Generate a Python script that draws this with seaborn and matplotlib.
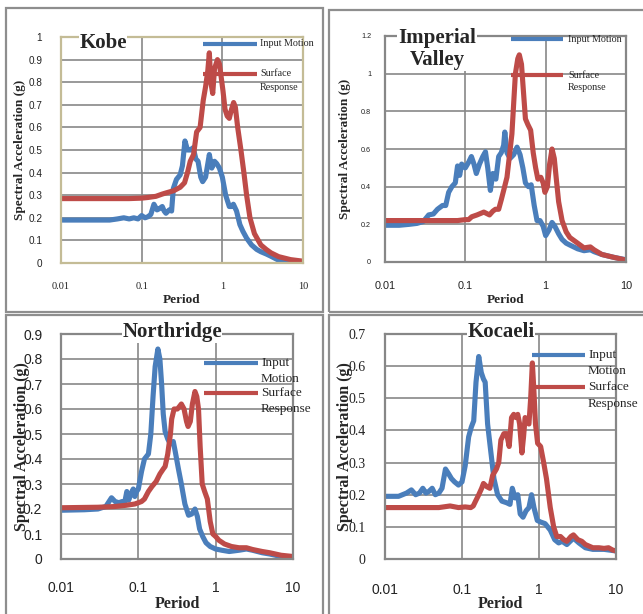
import numpy as np
import pandas as pd
import matplotlib
matplotlib.use("Agg")
import matplotlib.pyplot as plt
from matplotlib.patches import Rectangle
from matplotlib.lines import Line2D
import seaborn as sns

# ---- data (period in s, spectral acceleration in g) ----
kobe_in_T = [0.01, 0.02, 0.03, 0.04, 0.05, 0.06, 0.07, 0.08, 0.09, 0.1, 0.11, 0.12, 0.13, 0.142, 0.155,
             0.165, 0.18, 0.19, 0.2, 0.22, 0.235, 0.247, 0.27, 0.3, 0.32, 0.344, 0.37, 0.4, 0.435, 0.47,
             0.5, 0.54, 0.57, 0.62, 0.69, 0.74, 0.8, 0.85, 0.92, 1.0, 1.1, 1.22, 1.3, 1.37, 1.5, 1.65,
             1.8, 2.0, 2.3, 2.67, 3.0, 3.5, 4.0, 5.0, 7.0, 10.0]
kobe_in_SA = [0.19, 0.19, 0.19, 0.19, 0.195, 0.2, 0.195, 0.2, 0.195, 0.21, 0.2, 0.205, 0.215, 0.26, 0.235,
              0.24, 0.25, 0.23, 0.22, 0.235, 0.23, 0.33, 0.37, 0.39, 0.43, 0.54, 0.5, 0.5, 0.51, 0.46,
              0.45, 0.38, 0.36, 0.38, 0.48, 0.42, 0.45, 0.44, 0.42, 0.38, 0.3, 0.25, 0.25, 0.26, 0.23, 0.17,
              0.14, 0.11, 0.08, 0.06, 0.05, 0.04, 0.03, 0.012, 0.006, 0.004]
kobe_out_T = [0.01, 0.03, 0.05, 0.07, 0.1, 0.12, 0.15, 0.18, 0.2, 0.25, 0.3, 0.34, 0.37, 0.4, 0.44, 0.48,
              0.53, 0.58, 0.62, 0.66, 0.69, 0.72, 0.76, 0.8, 0.87, 0.92, 0.97, 1.02, 1.08, 1.15, 1.22,
              1.3, 1.38, 1.45, 1.55, 1.7, 1.85, 2.0, 2.2, 2.5, 3.0, 3.5, 4.0, 5.0, 7.0, 10.0]
kobe_out_SA = [0.285, 0.285, 0.285, 0.285, 0.287, 0.29, 0.295, 0.305, 0.31, 0.32, 0.335, 0.355, 0.4, 0.45,
               0.48, 0.58, 0.6, 0.72, 0.78, 0.85, 0.93, 0.8, 0.75, 0.86, 0.9, 0.88, 0.82, 0.76, 0.68, 0.65,
               0.64, 0.68, 0.71, 0.69, 0.6, 0.5, 0.4, 0.3, 0.2, 0.13, 0.08, 0.06, 0.045, 0.028, 0.015, 0.008]

imp_in_T = [0.01, 0.015, 0.02, 0.025, 0.03, 0.035, 0.04, 0.045, 0.052, 0.057, 0.062, 0.068, 0.075, 0.08,
            0.085, 0.09, 0.1, 0.11, 0.119, 0.128, 0.137, 0.15, 0.165, 0.178, 0.19, 0.205, 0.22, 0.24, 0.26,
            0.28, 0.3, 0.31, 0.33, 0.36, 0.4, 0.44, 0.48, 0.52, 0.56, 0.61, 0.66, 0.72, 0.78, 0.85, 0.93,
            1.0, 1.1, 1.2, 1.3, 1.45, 1.6, 1.8, 2.0, 2.5, 3.0, 3.6, 4.0, 5.0, 7.0, 10.0]
imp_in_SA = [0.195, 0.195, 0.2, 0.205, 0.215, 0.25, 0.255, 0.28, 0.3, 0.3, 0.37, 0.4, 0.42, 0.51, 0.46,
             0.52, 0.5, 0.53, 0.56, 0.52, 0.47, 0.52, 0.56, 0.585, 0.5, 0.38, 0.47, 0.44, 0.56, 0.58, 0.62,
             0.69, 0.58, 0.55, 0.57, 0.61, 0.57, 0.5, 0.42, 0.4, 0.41, 0.3, 0.22, 0.22, 0.19, 0.14, 0.17,
             0.21, 0.19, 0.15, 0.12, 0.1, 0.09, 0.07, 0.06, 0.065, 0.055, 0.04, 0.025, 0.012]
imp_out_T = [0.01, 0.03, 0.06, 0.08, 0.1, 0.11, 0.12, 0.14, 0.17, 0.2, 0.22, 0.237, 0.26, 0.28, 0.3, 0.33,
             0.38, 0.42, 0.45, 0.47, 0.5, 0.53, 0.56, 0.6, 0.65, 0.7, 0.75, 0.8, 0.87, 0.93, 0.98, 1.05,
             1.12, 1.2, 1.28, 1.35, 1.45, 1.6, 1.8, 2.0, 2.5, 3.0, 3.6, 4.0, 5.0, 7.0, 10.0]
imp_out_SA = [0.22, 0.22, 0.22, 0.22, 0.225, 0.225, 0.24, 0.25, 0.265, 0.25, 0.27, 0.28, 0.28, 0.33, 0.38,
              0.45, 0.68, 1.0, 1.08, 1.1, 1.05, 0.9, 0.76, 0.73, 0.7, 0.58, 0.5, 0.44, 0.45, 0.42, 0.37,
              0.4, 0.52, 0.6, 0.55, 0.45, 0.32, 0.22, 0.16, 0.13, 0.1, 0.075, 0.08, 0.065, 0.04, 0.025, 0.01]

nor_in_T = [0.01, 0.02, 0.03, 0.038, 0.045, 0.05, 0.056, 0.062, 0.066, 0.071, 0.075, 0.08, 0.086, 0.09,
            0.095, 0.1, 0.11, 0.12, 0.135, 0.145, 0.155, 0.165, 0.179, 0.19, 0.2, 0.21, 0.222, 0.24, 0.26,
            0.283, 0.3, 0.33, 0.36, 0.4, 0.446, 0.49, 0.54, 0.58, 0.62, 0.68, 0.75, 0.85, 1.0, 1.2, 1.5,
            2.0, 2.5, 3.0, 4.0, 5.0, 7.0, 10.0]
nor_in_SA = [0.195, 0.197, 0.2, 0.21, 0.245, 0.23, 0.225, 0.23, 0.22, 0.27, 0.235, 0.26, 0.28, 0.25, 0.27,
             0.28, 0.35, 0.4, 0.42, 0.5, 0.65, 0.77, 0.84, 0.8, 0.7, 0.58, 0.51, 0.48, 0.46, 0.47, 0.43,
             0.36, 0.3, 0.22, 0.175, 0.18, 0.2, 0.17, 0.12, 0.09, 0.065, 0.05, 0.04, 0.035, 0.03, 0.035,
             0.04, 0.035, 0.025, 0.02, 0.01, 0.005]
nor_out_T = [0.01, 0.03, 0.05, 0.07, 0.09, 0.1, 0.11, 0.12, 0.135, 0.15, 0.17, 0.19, 0.21, 0.222, 0.24,
             0.26, 0.27, 0.29, 0.32, 0.34, 0.36, 0.39, 0.42, 0.44, 0.47, 0.5, 0.54, 0.57, 0.6, 0.63, 0.67,
             0.72, 0.78, 0.85, 0.92, 1.0, 1.1, 1.3, 1.6, 2.0, 2.5, 3.0, 4.0, 5.0, 7.0, 10.0]
nor_out_SA = [0.205, 0.207, 0.21, 0.215, 0.22, 0.225, 0.23, 0.24, 0.27, 0.29, 0.31, 0.34, 0.36, 0.37, 0.42,
              0.5, 0.56, 0.6, 0.6, 0.61, 0.62, 0.6, 0.55, 0.53, 0.55, 0.62, 0.67, 0.65, 0.6, 0.45, 0.3,
              0.27, 0.24, 0.15, 0.1, 0.09, 0.075, 0.06, 0.05, 0.045, 0.045, 0.038, 0.03, 0.025, 0.015, 0.01]

koc_in_T = [0.01, 0.015, 0.019, 0.022, 0.025, 0.028, 0.031, 0.034, 0.037, 0.041, 0.045, 0.05, 0.055,
            0.061, 0.067, 0.073, 0.08, 0.09, 0.1, 0.11, 0.122, 0.132, 0.142, 0.152, 0.165, 0.178, 0.19,
            0.2, 0.215, 0.235, 0.26, 0.29, 0.33, 0.38, 0.42, 0.45, 0.49, 0.53, 0.57, 0.62, 0.68, 0.74,
            0.8, 0.86, 0.95, 1.05, 1.2, 1.4, 1.6, 1.8, 2.0, 2.3, 2.8, 3.3, 4.0, 5.0, 7.0, 10.0]
koc_in_SA = [0.195, 0.195, 0.205, 0.215, 0.2, 0.205, 0.22, 0.205, 0.21, 0.22, 0.2, 0.205, 0.22, 0.28,
             0.265, 0.25, 0.24, 0.23, 0.24, 0.29, 0.38, 0.41, 0.43, 0.55, 0.63, 0.58, 0.56, 0.55, 0.42,
             0.34, 0.25, 0.2, 0.18, 0.175, 0.17, 0.22, 0.19, 0.2, 0.14, 0.13, 0.15, 0.16, 0.2, 0.16, 0.12,
             0.115, 0.11, 0.09, 0.06, 0.05, 0.055, 0.045, 0.065, 0.05, 0.035, 0.03, 0.03, 0.025]
koc_out_T = [0.01, 0.03, 0.05, 0.07, 0.09, 0.11, 0.13, 0.14, 0.15, 0.165, 0.18, 0.19, 0.2, 0.21, 0.23,
             0.25, 0.28, 0.3, 0.32, 0.35, 0.38, 0.41, 0.44, 0.47, 0.5, 0.53, 0.56, 0.6, 0.63, 0.66, 0.7,
             0.74, 0.78, 0.82, 0.86, 0.9, 0.96, 1.05, 1.15, 1.25, 1.4, 1.55, 1.7, 1.9, 2.1, 2.3, 2.6, 2.8,
             3.2, 3.6, 4.0, 5.0, 6.0, 7.0, 8.0, 9.0, 10.0]
koc_out_SA = [0.16, 0.16, 0.16, 0.165, 0.16, 0.162, 0.16, 0.165, 0.18, 0.2, 0.22, 0.235, 0.23, 0.225, 0.22,
              0.26, 0.28, 0.3, 0.37, 0.39, 0.39, 0.35, 0.44, 0.45, 0.44, 0.45, 0.42, 0.33, 0.38, 0.44,
              0.43, 0.42, 0.5, 0.61, 0.52, 0.42, 0.36, 0.35, 0.3, 0.25, 0.16, 0.1, 0.07, 0.07, 0.06, 0.055,
              0.07, 0.075, 0.06, 0.055, 0.045, 0.035, 0.035, 0.033, 0.035, 0.028, 0.025]

x_ticks = [0.01, 0.1, 1, 10]
x_ticklabels = ["0.01", "0.1", "1", "10"]
series_names = ["Input Motion", "Surface Response"]

W, H = 643, 614
BLUE = "#4A7EBB"
RED = "#BE4B48"
GRID = "#878787"
FRAME = "#8E8E8E"

sns.set_theme(style="white")
plt.rcParams["font.family"] = ["Liberation Serif", "DejaVu Serif"]

fig = plt.figure(figsize=(W / 100, H / 100), dpi=100)


def fx(x):
    return x / W


def fy(y):
    return 1 - y / H


# outer frames of the four pasted Excel charts
for (x0, y0, x1, y1) in [(6, 8, 323, 312), (329, 10, 646, 312), (6, 315, 323, 617), (329, 315, 646, 617)]:
    fig.add_artist(Rectangle((fx(x0), fy(y1)), fx(x1 - x0), (y1 - y0) / H, transform=fig.transFigure,
                             fill=False, ec=FRAME, lw=1.6))

panels = [
    dict(title="Kobe", T=(kobe_in_T, kobe_out_T), SA=(kobe_in_SA, kobe_out_SA),
         box=(61, 37, 303, 263), ymax=1.0, ystep=0.1, spine="#C4BC96",
         title_xy=(103, 43), ylab_x=20, xlab_y=300, lab_fs=9.5,
         ytick_fs=7.2, ytick_font="Liberation Sans", ypad=13.5,
         xtick_fs=7.5, xtick_font="Liberation Serif", xpad=14,
         leg=(203, 257, 260, [44, 74], ["Input Motion", "Surface\nResponse"], 7.3, 14)),
    dict(title="Imperial\nValley", T=(imp_in_T, imp_out_T), SA=(imp_in_SA, imp_out_SA),
         box=(385, 36, 626, 262), ymax=1.2, ystep=0.2, spine=GRID,
         title_xy=(437, 49), ylab_x=345, xlab_y=300, lab_fs=9.5,
         ytick_fs=5.2, ytick_font="Liberation Sans", ypad=10,
         xtick_fs=7.8, xtick_font="Liberation Sans", xpad=14,
         leg=(511, 563, 568, [39, 75], ["Input Motion", "Surface\nResponse"], 7.3, 13)),
    dict(title="Northridge", T=(nor_in_T, nor_out_T), SA=(nor_in_SA, nor_out_SA),
         box=(61, 334, 293, 559), ymax=0.9, ystep=0.1, spine=GRID,
         title_xy=(172, 332), ylab_x=22, xlab_y=604, lab_fs=11.5,
         ytick_fs=10, ytick_font="Liberation Sans", ypad=13.5,
         xtick_fs=10, xtick_font="Liberation Sans", xpad=16,
         leg=(204, 258, 261, [363, 393], ["Input\nMotion", "Surface\nResponse"], 9.5, 16)),
    dict(title="Kocaeli", T=(koc_in_T, koc_out_T), SA=(koc_in_SA, koc_out_SA),
         box=(385, 334, 616, 559), ymax=0.7, ystep=0.1, spine=GRID,
         title_xy=(501, 332), ylab_x=345, xlab_y=604, lab_fs=11.5,
         ytick_fs=10, ytick_font="Liberation Serif", ypad=14,
         xtick_fs=10, xtick_font="Liberation Sans", xpad=17,
         leg=(532, 585, 588, [355, 387], ["Input\nMotion", "Surface\nResponse"], 9.5, 16.5)),
]

for p in panels:
    x0, y0, x1, y1 = p["box"]
    ax = fig.add_axes([fx(x0), fy(y1), (x1 - x0) / W, (y1 - y0) / H])

    frames = []
    for name, T, SA in zip(series_names, p["T"], p["SA"]):
        frames.append(pd.DataFrame({"Period": T, "SA": SA, "series": name}))
    df = pd.concat(frames, ignore_index=True)

    sns.lineplot(data=df, x="Period", y="SA", hue="series", palette=[BLUE, RED], estimator=None,
                 lw=3.7, legend=False, ax=ax, solid_capstyle="round", solid_joinstyle="round")

    ax.set_xscale("log")
    ax.set_xlim(0.01, 10)
    ax.set_ylim(0, p["ymax"])
    ax.set_xticks(x_ticks)
    ax.set_xticklabels(x_ticklabels, fontsize=p["xtick_fs"], fontfamily=p["xtick_font"])
    ax.xaxis.set_minor_locator(matplotlib.ticker.NullLocator())
    yt = np.round(np.arange(0, p["ymax"] + 1e-9, p["ystep"]), 2)
    ax.set_yticks(yt)
    ax.set_yticklabels(["0" if v == 0 else f"{v:g}" for v in yt],
                       fontsize=p["ytick_fs"], fontfamily=p["ytick_font"])
    ax.tick_params(axis="x", length=0, pad=p["xpad"], colors="#222222")
    ax.tick_params(axis="y", length=0, pad=p["ypad"], colors="#222222")
    ax.set_xlabel("")
    ax.set_ylabel("")
    ax.grid(True, which="major", color=GRID, lw=1.2)
    ax.set_axisbelow(True)
    for s in ax.spines.values():
        s.set_visible(True)
        s.set_color(p["spine"])
        s.set_linewidth(1.6)

    # axis titles
    cx = (x0 + x1) / 2
    fig.text(fx(cx), fy(p["xlab_y"]), "Period", ha="center", va="center",
             fontsize=p["lab_fs"], fontweight="bold")
    fig.text(fx(p["ylab_x"]), fy((y0 + y1) / 2), "Spectral Acceleration (g)", rotation=90,
             ha="center", va="center", fontsize=p["lab_fs"], fontweight="bold")

    # chart title
    tx, ty = p["title_xy"]
    fig.text(fx(tx), fy(ty), p["title"], ha="center", va="center", fontsize=15, fontweight="bold",
             linespacing=1.15, bbox=dict(fc="white", ec="none", pad=0.5), zorder=5)

    # legend, Excel style (key aligned with the first text line)
    lx0, lx1, ltx, rows, labels, lfs, gap = p["leg"]
    for color, ry, lab in zip([BLUE, RED], rows, labels):
        fig.add_artist(Line2D([fx(lx0), fx(lx1)], [fy(ry), fy(ry)], transform=fig.transFigure,
                              color=color, lw=3.0, solid_capstyle="butt", zorder=6))
        for i, line in enumerate(lab.split("\n")):
            fig.text(fx(ltx), fy(ry + i * gap), line, ha="left", va="center", fontsize=lfs, zorder=6)

fig.savefig("out.png", dpi=100)
